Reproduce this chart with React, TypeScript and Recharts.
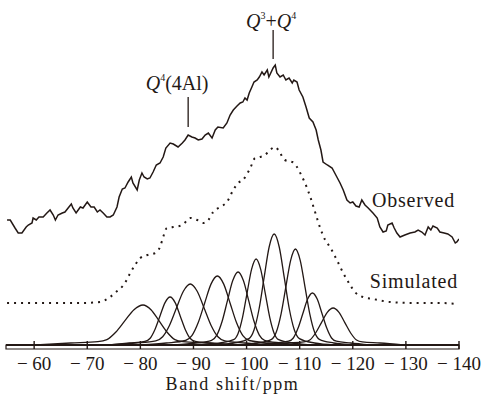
import {
  LineChart,
  Line,
  XAxis,
  YAxis,
  ReferenceLine,
  ReferenceArea,
  ReferenceDot,
} from "recharts";

const INK = "#231815";
const FONT = '"Liberation Serif", "Times New Roman", serif';

// ppm shown as negative numbers so the axis can run -60 ... -140 left to right
const xTicks = [-60, -70, -80, -90, -100, -110, -120, -130, -140];

type Pair = [number, number];

const observed: Pair[] = [
  [-54.9, 125], [-55.5, 125], [-56.4, 117], [-57.0, 112], [-57.7, 112], [-58.5, 118],
  [-58.9, 120], [-59.6, 122], [-59.8, 127], [-60.4, 125], [-60.9, 128], [-61.7, 128],
  [-62.4, 132], [-63.0, 135], [-63.6, 130], [-64.0, 125], [-64.5, 130], [-65.3, 132],
  [-65.8, 133], [-66.4, 137], [-67.0, 141], [-67.3, 137], [-67.9, 132], [-68.7, 138],
  [-69.2, 137], [-70.0, 143], [-70.7, 138], [-71.3, 138], [-71.9, 133], [-72.4, 135],
  [-73.0, 132], [-73.7, 128], [-74.3, 128], [-74.9, 130], [-75.6, 138], [-76.0, 148],
  [-76.6, 156], [-77.1, 157], [-77.7, 163], [-78.3, 168], [-78.6, 162], [-79.4, 155],
  [-79.8, 165], [-80.3, 172], [-80.7, 168], [-81.3, 166], [-81.8, 167], [-82.4, 173],
  [-83.0, 180], [-83.7, 182], [-84.3, 188], [-84.8, 197], [-85.6, 202], [-86.2, 201],
  [-87.1, 198], [-87.9, 202], [-88.4, 205], [-89.0, 210], [-89.7, 208], [-90.3, 207],
  [-90.9, 205], [-91.6, 206], [-92.2, 210], [-92.8, 212], [-93.5, 207], [-94.1, 215],
  [-94.6, 218], [-95.6, 217], [-96.3, 222], [-96.9, 230], [-97.5, 235], [-98.2, 239],
  [-98.8, 242], [-99.3, 243], [-99.7, 247], [-100.1, 245], [-100.5, 252], [-101.0, 258],
  [-101.4, 263], [-102.0, 265], [-102.4, 268], [-102.9, 273], [-103.3, 270], [-103.9, 275],
  [-104.2, 268], [-105.0, 277], [-105.4, 280], [-105.7, 272], [-106.3, 268], [-106.9, 270],
  [-107.4, 265], [-108.0, 267], [-108.6, 262], [-108.9, 265], [-109.5, 263], [-109.9, 255],
  [-110.6, 248], [-111.2, 238], [-111.8, 227], [-112.5, 223], [-113.1, 215], [-113.5, 205],
  [-114.0, 195], [-114.4, 183], [-115.2, 180], [-116.1, 177], [-116.8, 170], [-117.6, 162],
  [-118.2, 155], [-118.9, 145], [-119.5, 142], [-120.0, 143], [-120.6, 139], [-121.2, 138],
  [-121.7, 145], [-122.3, 140], [-122.9, 137], [-123.8, 132], [-124.6, 127], [-125.1, 118],
  [-125.7, 113], [-126.3, 114], [-126.6, 120], [-127.4, 122], [-127.8, 117], [-128.3, 112],
  [-128.9, 108], [-129.8, 110], [-130.8, 112], [-131.7, 113], [-132.3, 115], [-133.0, 113],
  [-133.6, 110], [-134.2, 118], [-134.7, 115], [-135.1, 119], [-135.9, 117], [-136.4, 113],
  [-137.2, 112], [-137.9, 111], [-138.7, 108], [-139.3, 102], [-139.6, 103], [-140.0, 106],
];

const simulated: Pair[] = [
  [-54.9, 42], [-57.4, 42], [-61.1, 42], [-64.9, 42], [-68.7, 42], [-72.4, 43],
  [-74.3, 48], [-75.2, 52], [-77.1, 62], [-78.1, 72], [-79.0, 80], [-80.0, 87],
  [-81.3, 90], [-82.8, 92], [-83.7, 98], [-84.3, 108], [-85.0, 117], [-86.2, 118],
  [-87.9, 120], [-89.4, 127], [-90.7, 125], [-91.8, 122], [-92.8, 125], [-93.7, 133],
  [-95.0, 138], [-96.3, 143], [-97.5, 155], [-98.4, 162], [-99.3, 165], [-100.7, 177],
  [-101.6, 187], [-102.5, 188], [-103.5, 190], [-104.4, 195], [-105.4, 198], [-106.3, 192],
  [-107.2, 185], [-108.6, 183], [-109.5, 178], [-110.1, 172], [-111.0, 162], [-112.0, 148],
  [-112.9, 133], [-113.8, 118], [-114.8, 105], [-115.7, 98], [-117.0, 85], [-118.2, 72],
  [-119.5, 60], [-120.4, 53], [-121.9, 48], [-123.8, 46], [-127.0, 43], [-131.3, 42],
  [-136.4, 42], [-139.8, 41],
];

// fitted components
const peak1: Pair[] = [
  [-60.1, 0], [-66.9, 2], [-72, 3.3], [-73.7, 5.4], [-75.4, 13], [-77.1, 24.3], [-78.8, 35.3],
  [-80.5, 40], [-82, 35.3], [-83.5, 24.3], [-85, 13], [-86.5, 5.4], [-88, 3.3], [-92.5, 2], [-98.5, 0],
];
const peak2: Pair[] = [
  [-74.2, 0], [-78, 2], [-80.85, 3.6], [-81.8, 6.5], [-82.75, 15.6], [-83.7, 29.1], [-84.65, 42.4],
  [-85.6, 48], [-86.55, 42.4], [-87.5, 29.1], [-88.45, 15.6], [-89.4, 6.5], [-90.35, 3.6], [-93.2, 2], [-97, 0],
];
const peak3: Pair[] = [
  [-73.8, 0], [-79, 2], [-82.9, 4.2], [-84.2, 8.3], [-85.5, 19.8], [-86.8, 37], [-88.1, 53.8],
  [-89.4, 61], [-90.7, 53.8], [-92, 37], [-93.3, 19.8], [-94.6, 8.3], [-95.9, 4.2], [-99.8, 2], [-105, 0],
];
const peak4: Pair[] = [
  [-80.1, 0], [-84.9, 2], [-88.5, 4.5], [-89.7, 9.3], [-90.9, 22.4], [-92.1, 41.8], [-93.3, 60.9],
  [-94.5, 69], [-95.7, 60.9], [-96.9, 41.8], [-98.1, 22.4], [-99.3, 9.3], [-100.5, 4.5], [-104.1, 2], [-108.9, 0],
];
const peak5: Pair[] = [
  [-86.4, 0], [-90.4, 2], [-93.4, 4.7], [-94.4, 9.9], [-95.4, 23.7], [-96.4, 44.3], [-97.4, 64.4],
  [-98.4, 73], [-99.4, 64.4], [-100.4, 44.3], [-101.4, 23.7], [-102.4, 9.9], [-103.4, 4.7], [-106.4, 2], [-110.4, 0],
];
const peak6: Pair[] = [
  [-91.6, 0], [-95, 2], [-97.55, 5.3], [-98.4, 11.6], [-99.25, 27.9], [-100.1, 52.2], [-100.95, 75.9],
  [-101.8, 86], [-102.65, 75.9], [-103.5, 52.2], [-104.35, 27.9], [-105.2, 11.6], [-106.05, 5.3], [-108.6, 2], [-112, 0],
];
const peak7: Pair[] = [
  [-93.8, 0], [-97.6, 2], [-100.45, 6.4], [-101.4, 15], [-102.35, 36], [-103.3, 67.3], [-104.25, 98],
  [-105.2, 111], [-106.15, 98], [-107.1, 67.3], [-108.05, 36], [-109, 15], [-109.95, 6.4], [-112.8, 2], [-116.6, 0],
];
const peak8: Pair[] = [
  [-98.4, 0], [-102, 2], [-104.7, 5.7], [-105.6, 13], [-106.5, 31.2], [-107.4, 58.2], [-108.3, 84.7],
  [-109.2, 96], [-110.1, 84.7], [-111, 58.2], [-111.9, 31.2], [-112.8, 13], [-113.7, 5.7], [-116.4, 2], [-120, 0],
];
const peak9: Pair[] = [
  [-101.6, 0], [-105.2, 2], [-107.9, 3.8], [-108.8, 7], [-109.7, 16.9], [-110.6, 31.5], [-111.5, 45.9],
  [-112.4, 52], [-113.3, 45.9], [-114.2, 31.5], [-115.1, 16.9], [-116, 7], [-116.9, 3.8], [-119.6, 2], [-123.2, 0],
];
const peak10: Pair[] = [
  [-103.1, 0], [-107.5, 2], [-110.8, 3.1], [-111.9, 5], [-113, 12], [-114.1, 22.4], [-115.2, 32.7],
  [-116.3, 37], [-117.4, 32.7], [-118.5, 22.4], [-119.6, 12], [-120.7, 5], [-121.8, 3.1], [-125.1, 2], [-129.5, 0],
];
const peaks = [peak1, peak2, peak3, peak4, peak5, peak6, peak7, peak8, peak9, peak10];

const toPoints = (a: Pair[]) => a.map(([x, y]) => ({ x, y }));

function AxisTick(props: any) {
  const { x, y, payload } = props;
  return (
    <g>
      <line x1={x} x2={x} y1={y - 8} y2={y} stroke={INK} strokeWidth={1.4} />
      <text x={x} y={y + 21} textAnchor="middle" fontFamily={FONT} fontSize={19} fill={INK}>
        {"\u2212 " + Math.abs(payload.value)}
      </text>
    </g>
  );
}

function Q4AlLabel(props: any) {
  const { x, y } = props.viewBox;
  return (
    <text x={x - 11} y={y - 7} textAnchor="middle" fontFamily={FONT} fontSize={20} fill={INK}>
      <tspan fontStyle="italic">Q</tspan>
      <tspan dy={-9} fontSize={10}>4</tspan>
      <tspan dy={9}>(4Al)</tspan>
    </text>
  );
}

function Q3Q4Label(props: any) {
  const { x, y } = props.viewBox;
  return (
    <text x={x - 2} y={y - 2} textAnchor="middle" fontFamily={FONT} fontSize={20} fill={INK}>
      <tspan fontStyle="italic">Q</tspan>
      <tspan dy={-9} fontSize={10}>3</tspan>
      <tspan dy={9}>+</tspan>
      <tspan fontStyle="italic">Q</tspan>
      <tspan dy={-9} fontSize={10}>4</tspan>
    </text>
  );
}

function SideLabel(text: string) {
  return (props: any) => {
    const { x, y } = props.viewBox;
    return (
      <text x={x} y={y} fontFamily={FONT} fontSize={20} letterSpacing={0.8} fill={INK}>
        {text}
      </text>
    );
  };
}

export default function App() {
  return (
    <div style={{ position: "absolute", left: 0, top: 0, width: 488, height: 394, background: "#fff" }}>
      <LineChart
        width={488}
        height={394}
        margin={{ top: 5, right: 29, bottom: 0, left: 6 }}
        style={{ fontFamily: FONT }}
      >
        <XAxis
          type="number"
          dataKey="x"
          domain={[-140, -54.7]}
          reversed
          allowDataOverflow
          ticks={xTicks}
          interval={0}
          tick={<AxisTick />}
          tickLine={false}
          axisLine={false}
          tickSize={0}
          tickMargin={0}
          height={45}
          label={{
            value: "Band shift/ppm",
            position: "insideBottom",
            offset: 4,
            fill: INK,
            fontSize: 18,
            fontFamily: FONT,
            letterSpacing: 1.6,
          }}
        />
        <YAxis type="number" domain={[-4, 340]} hide width={0} allowDataOverflow />

        <ReferenceArea y1={-4} y2={0} fill="none" stroke={INK} strokeWidth={1.2} />
        <ReferenceLine y={0} stroke={INK} strokeWidth={2} />

        {peaks.map((p, i) => (
          <Line
            key={"peak" + i}
            data={toPoints(p)}
            dataKey="y"
            type="monotone"
            stroke={INK}
            strokeWidth={1.3}
            dot={false}
            isAnimationActive={false}
          />
        ))}

        <Line
          data={toPoints(simulated)}
          dataKey="y"
          type="monotone"
          stroke={INK}
          strokeWidth={2}
          strokeDasharray="2 5"
          dot={false}
          isAnimationActive={false}
        />
        <Line
          data={toPoints(observed)}
          dataKey="y"
          type="linear"
          stroke={INK}
          strokeWidth={1.5}
          dot={false}
          isAnimationActive={false}
        />

        <ReferenceLine
          segment={[{ x: -89, y: 218 }, { x: -89, y: 248 }]}
          stroke={INK}
          strokeWidth={1.3}
          label={Q4AlLabel}
        />
        <ReferenceLine
          segment={[{ x: -105, y: 286 }, { x: -105, y: 315 }]}
          stroke={INK}
          strokeWidth={1.3}
          label={Q3Q4Label}
        />
        <ReferenceDot x={-123.6} y={138} r={0} fill="none" stroke="none" label={SideLabel("Observed")} />
        <ReferenceDot x={-123.2} y={57} r={0} fill="none" stroke="none" label={SideLabel("Simulated")} />
      </LineChart>
    </div>
  );
}
